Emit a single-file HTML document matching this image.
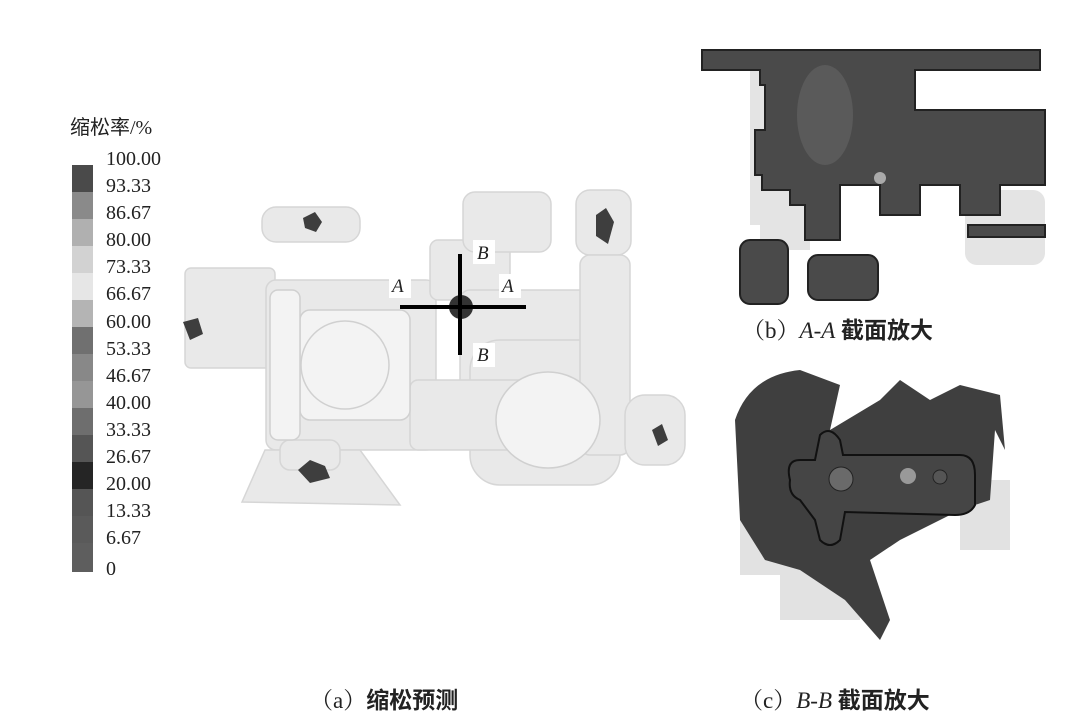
<!DOCTYPE html>
<html><head><meta charset="utf-8"><style>
body{margin:0;background:#fff;}
svg{display:block}
text{font-family:"Liberation Serif","Noto Serif CJK SC",serif;fill:#222}
.cj{font-family:"Liberation Serif","Noto Sans CJK SC",sans-serif;font-weight:bold}
</style></head><body>
<svg width="1080" height="727" viewBox="0 0 1080 727">
<rect width="1080" height="727" fill="#fff"/>
<text x="70" y="134" font-size="20" class="cj" style="font-weight:normal">缩松率/%</text>
<g>
<rect x="72" y="165" width="21" height="28" fill="#4a4a4a"/>
<rect x="72" y="192" width="21" height="28" fill="#8a8a8a"/>
<rect x="72" y="219" width="21" height="28" fill="#b0b0b0"/>
<rect x="72" y="246" width="21" height="28" fill="#d2d2d2"/>
<rect x="72" y="273" width="21" height="28" fill="#e6e6e6"/>
<rect x="72" y="300" width="21" height="28" fill="#b4b4b4"/>
<rect x="72" y="327" width="21" height="28" fill="#707070"/>
<rect x="72" y="354" width="21" height="28" fill="#888888"/>
<rect x="72" y="381" width="21" height="28" fill="#969696"/>
<rect x="72" y="408" width="21" height="28" fill="#6e6e6e"/>
<rect x="72" y="435" width="21" height="28" fill="#555555"/>
<rect x="72" y="462" width="21" height="28" fill="#252525"/>
<rect x="72" y="489" width="21" height="28" fill="#555555"/>
<rect x="72" y="516" width="21" height="28" fill="#5a5a5a"/>
<rect x="72" y="543" width="21" height="29" fill="#5e5e5e"/>
</g>
<g font-size="20">
<text x="106" y="165">100.00</text><text x="106" y="192">93.33</text><text x="106" y="219">86.67</text>
<text x="106" y="246">80.00</text><text x="106" y="273">73.33</text><text x="106" y="300">66.67</text>
<text x="106" y="328">60.00</text><text x="106" y="355">53.33</text><text x="106" y="382">46.67</text>
<text x="106" y="409">40.00</text><text x="106" y="436">33.33</text><text x="106" y="463">26.67</text>
<text x="106" y="490">20.00</text><text x="106" y="517">13.33</text><text x="106" y="544">6.67</text>
<text x="106" y="575">0</text>
</g>
<g fill="#e9e9e9" stroke="#d6d6d6" stroke-width="1.5">
<rect x="262" y="207" width="98" height="35" rx="14"/>
<rect x="185" y="268" width="90" height="100" rx="6"/>
<rect x="266" y="280" width="170" height="170" rx="10"/>
<rect x="430" y="240" width="80" height="60" rx="8"/>
<rect x="463" y="192" width="88" height="60" rx="12"/>
<rect x="576" y="190" width="55" height="65" rx="14"/>
<rect x="460" y="290" width="160" height="100" rx="10"/>
<rect x="470" y="340" width="150" height="145" rx="30"/>
<rect x="580" y="255" width="50" height="200" rx="10"/>
<rect x="625" y="395" width="60" height="70" rx="20"/>
<rect x="410" y="380" width="130" height="70" rx="8"/>
<polygon points="242,502 265,450 360,450 400,505"/>
<rect x="280" y="440" width="60" height="30" rx="10"/>
</g>
<g fill="#f3f3f3" stroke="#d0d0d0" stroke-width="1.5">
<rect x="300" y="310" width="110" height="110" rx="10"/>
<circle cx="345" cy="365" r="44"/>
<ellipse cx="548" cy="420" rx="52" ry="48"/>
<rect x="270" y="290" width="30" height="150" rx="8"/>
</g>
<g fill="#3e3e3e">
<polygon points="303,218 315,212 322,222 316,232 305,228"/>
<polygon points="596,215 606,208 614,222 608,244 596,236"/>
<polygon points="183,322 198,318 203,334 190,340"/>
<polygon points="298,470 310,460 325,466 330,478 310,483"/>
<polygon points="652,430 662,424 668,440 658,446"/>
</g>
<circle cx="461" cy="307" r="12" fill="#333"/>
<g stroke="#000" stroke-width="4">
<line x1="400" y1="307" x2="526" y2="307"/>
<line x1="460" y1="254" x2="460" y2="355"/>
</g>
<g font-size="19" font-style="italic">
<rect x="473" y="240" width="22" height="24" fill="#fff"/><text x="477" y="259">B</text>
<rect x="389" y="274" width="22" height="24" fill="#fff"/><text x="392" y="292">A</text>
<rect x="499" y="274" width="22" height="24" fill="#fff"/><text x="502" y="292">A</text>
<rect x="473" y="343" width="22" height="24" fill="#fff"/><text x="477" y="361">B</text>
</g>
<g fill="#e4e4e4">
<rect x="750" y="55" width="90" height="170"/>
<rect x="965" y="190" width="80" height="75" rx="12"/>
<rect x="760" y="190" width="50" height="60"/>
</g>
<g fill="#4a4a4a" stroke="#222" stroke-width="2">
<path d="M702,50 H1040 V70 H915 V110 H1045 V185 H1000 V215 H960 V185 H920 V215 H880 V185 H840 V240 H805 V205 H790 V190 H762 V175 H755 V130 H765 V85 H760 V70 H702 Z"/>
<rect x="740" y="240" width="48" height="64" rx="10"/>
<rect x="808" y="255" width="70" height="45" rx="10"/>
<rect x="968" y="225" width="77" height="12"/>
</g>
<ellipse cx="825" cy="115" rx="28" ry="50" fill="#5a5a5a"/>
<ellipse cx="880" cy="178" rx="6" ry="6" fill="#aaa"/>
<text x="742" y="338" font-size="23">（b）<tspan font-style="italic">A</tspan>-<tspan font-style="italic">A</tspan> <tspan class="cj">截面放大</tspan></text>
<g fill="#e2e2e2">
<rect x="740" y="505" width="90" height="70"/>
<rect x="960" y="480" width="50" height="70"/>
<rect x="780" y="560" width="80" height="60"/>
</g>
<g fill="#3f3f3f">
<path d="M735,420 Q750,375 800,370 L840,385 L830,430 L880,400 L900,380 L930,400 L960,385 L1000,395 L1005,450 L995,430 L990,500 L960,510 L900,540 L870,560 L890,620 L880,640 L845,600 L800,570 L765,560 L740,520 Z"/>
</g>
<path d="M790,480 Q785,460 800,460 L815,460 L820,435 Q830,425 840,440 L843,455 L960,455 Q975,455 975,475 L975,505 Q970,515 955,515 L845,512 L840,540 Q830,550 820,540 L815,520 L800,500 Q788,495 790,480 Z" fill="#454545" stroke="#111" stroke-width="2"/>
<circle cx="841" cy="479" r="12" fill="#6a6a6a" stroke="#222"/>
<circle cx="908" cy="476" r="8" fill="#999"/>
<circle cx="940" cy="477" r="7" fill="#555" stroke="#222"/>
<text x="740" y="708" font-size="23">（c）<tspan font-style="italic">B</tspan>-<tspan font-style="italic">B</tspan> <tspan class="cj">截面放大</tspan></text>
<text x="310" y="708" font-size="23">（a）<tspan class="cj">缩松预测</tspan></text>
</svg>
</body></html>
